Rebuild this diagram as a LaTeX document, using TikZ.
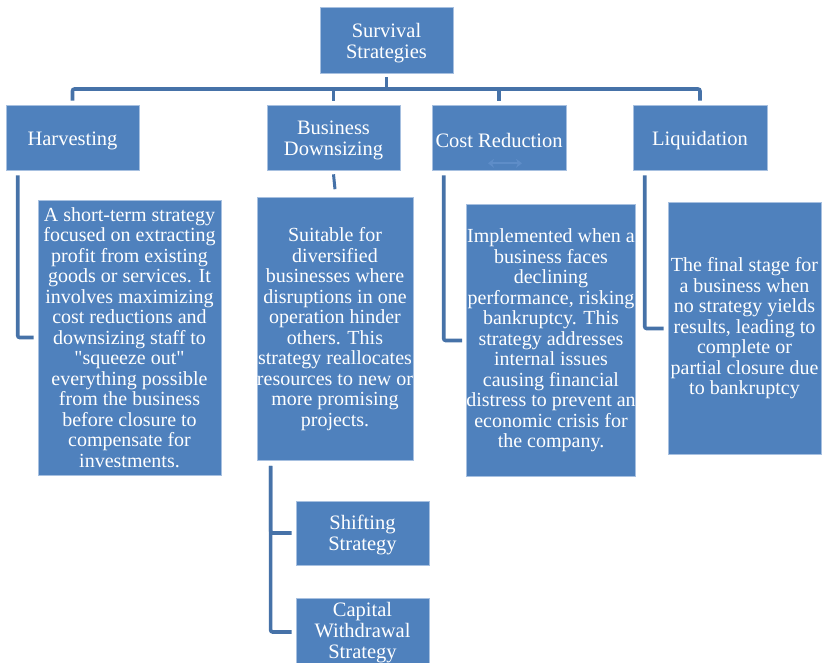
\documentclass[tikz,border=0pt]{standalone}
\usepackage{fontspec}
\setmainfont{Liberation Serif}[Ligatures=TeXOff]
\usetikzlibrary{arrows.meta,calc}

\definecolor{boxblue}{HTML}{4F81BD}
\definecolor{boxedge}{HTML}{A7C0E0}
\definecolor{linkblue}{HTML}{4672A8}
\definecolor{ghostblue}{HTML}{5E8DC8}

\tikzset{
  card/.style={rectangle, fill=boxblue, draw=boxedge, line width=0.6pt,
               inner sep=0pt, text=white, align=center},
  titletext/.style={text=white, align=center, inner sep=0pt, yshift=-3pt,
                    font=\fontsize{20.5pt}{21pt}\selectfont},
  title/.style={card},
  desc/.style={card, font=\fontsize{20pt}{20.5pt}\selectfont},
  conn/.style={draw=linkblue, line width=3.6pt, rounded corners=2pt}
}

\begin{document}
\begin{tikzpicture}[x=1pt, y=-1pt]
\useasboundingbox (0,0) rectangle (825,662);
\clip (0,0) rectangle (825,662);

% root
\node[title, minimum width=133pt, minimum height=66pt,
      label={[titletext]center:{Survival\\Strategies}}] (root) at (386.5,40) {};

% first level
\node[title, minimum width=133pt, minimum height=65pt,
      label={[titletext]center:{Harvesting}}] (harv) at (72.5,137.5) {};
\node[title, minimum width=133pt, minimum height=65pt,
      label={[titletext]center:{Business\\Downsizing}}] (bd) at (333.5,137.5) {};
\node[title, minimum width=134pt, minimum height=65pt,
      label={[titletext]center:{Cost Reduction}}] (cost) at (499,137.5) {};
\node[title, minimum width=134pt, minimum height=65pt,
      label={[titletext]center:{Liquidation}}] (liq) at (700,137.5) {};

% descriptions
\node[desc, minimum width=183pt, minimum height=275pt] (hdesc) at (129.5,337.5) {A short-term strategy\\focused on extracting\\profit from existing\\goods or services. It\\involves maximizing\\cost reductions and\\downsizing staff to\\"squeeze out"\\everything possible\\from the business\\before closure to\\compensate for\\investments.};
\node[desc, minimum width=154pt, minimum height=263pt] (bddesc) at (335,329) {Suitable for\\diversified\\businesses where\\disruptions in one\\operation hinder\\others. This\\strategy reallocates\\resources to new or\\more promising\\projects.};
\node[desc, minimum width=168pt, minimum height=272pt] (cdesc) at (551,340.5) {Implemented when a\\business faces\\declining\\performance, risking\\bankruptcy. This\\strategy addresses\\internal issues\\causing financial\\distress to prevent an\\economic crisis for\\the company.};
\node[desc, minimum width=153pt, minimum height=252pt] (ldesc) at (744.5,328.5) {The final stage for\\a business when\\no strategy yields\\results, leading to\\complete or\\partial closure due\\to bankruptcy};

% second level under Business Downsizing
\node[title, minimum width=133pt, minimum height=64pt,
      label={[titletext, yshift=1pt]center:{Shifting\\Strategy}}] (shift) at (362.5,533) {};
\node[title, minimum width=133pt, minimum height=68pt,
      label={[titletext, yshift=2pt]center:{Capital\\Withdrawal\\Strategy}}] (cap) at (362.5,632) {};

% bus from the root to the four strategies
\coordinate (bus) at (386.5,89);
\draw[conn] ([yshift=-4pt]root.south) -- (bus);
\draw[conn] ([yshift=4pt]harv.north) |- (bus) -| ([yshift=4pt]liq.north);
\draw[conn] ([yshift=4pt]bd.north) -- (bd.north |- bus);
\draw[conn] ([yshift=4pt]cost.north) -- (cost.north |- bus);

% side links to the descriptions
\draw[conn] ([xshift=12pt,yshift=-5pt]harv.south west) |- ([xshift=-4pt]hdesc.west);
\draw[conn] ([xshift=12pt,yshift=-5pt]cost.south west) |- ([xshift=-4pt]cdesc.west);
\draw[conn] ([xshift=12pt,yshift=-5pt]liq.south west)  |- ([xshift=-4pt]ldesc.west);
\draw[conn, line width=3pt] ([yshift=-4pt]bd.south) -- ([yshift=8pt]bddesc.north);

% links to the sub-strategies
\draw[conn] ([xshift=14pt,yshift=-5pt]bddesc.south west) |- ([xshift=-4pt]cap.west);
\draw[conn] ([xshift=14pt,yshift=-5pt]bddesc.south west) |- ([xshift=-4pt]shift.west);

% faint double arrow inside the Cost Reduction box
\draw[ghostblue, line width=1.8pt, {Stealth[length=6pt,width=9pt]}-{Stealth[length=6pt,width=9pt]}]
  ([xshift=-11pt,yshift=7pt]cost.south) -- ([xshift=23pt,yshift=7pt]cost.south);
\end{tikzpicture}
\end{document}
